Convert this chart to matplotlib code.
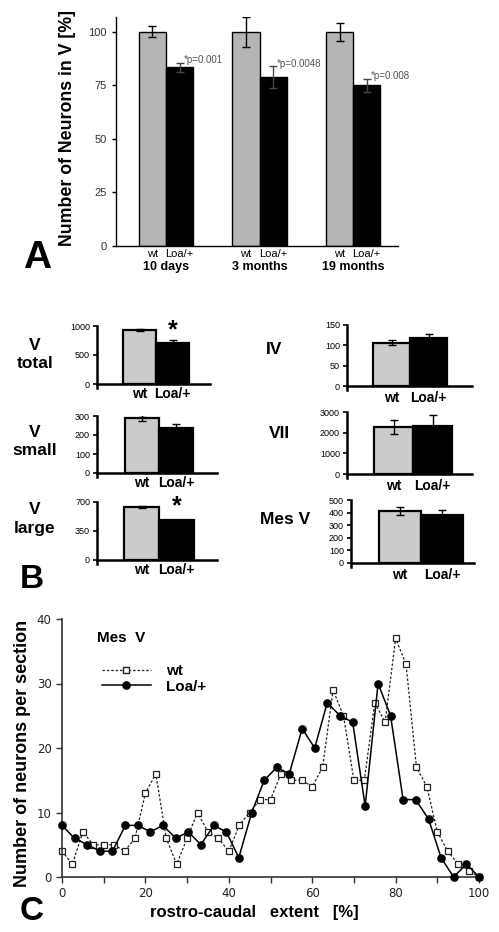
import numpy as np
import matplotlib
matplotlib.use("Agg")
import matplotlib.pyplot as plt
import matplotlib.transforms as mtransforms
from matplotlib.ticker import MultipleLocator
from matplotlib.lines import Line2D

plt.rcParams['font.family'] = ['Liberation Sans', 'DejaVu Sans']

# ---- Panel A: % neurons in V by age ----
edades = ['10 days', '3 months', '19 months']
wt_pct = [100, 100, 100]
wt_pct_err = [2.7, 7.0, 4.2]
loa_pct = [83.3, 78.8, 75.0]
loa_pct_err = [2.2, 5.0, 3.0]
p_textos = ['*p=0.001', '*p=0.0048', '*p=0.008']

# ---- Panel B: absolute counts ----
b_nombres = ['V\ntotal', 'V\nsmall', 'V\nlarge', 'IV', 'VII', 'Mes V']
b_wt = [930, 290, 636, 106, 2270, 415]
b_wt_err = [10, 15, 12, 6, 320, 32]
b_loa = [713, 236, 479, 119, 2340, 378]
b_loa_err = [45, 21, 5, 8, 520, 42]
b_yticks = [[0, 500, 1000], [0, 100, 200, 300], [0, 350, 700],
            [0, 50, 100, 150], [0, 1000, 2000, 3000], [0, 100, 200, 300, 400, 500]]
b_signif = [True, False, True, False, False, False]
b_xlabels = ['wt', 'Loa/+']

# ---- Panel C: rostro-caudal distribution of Mes V ----
wt_x = [0, 2.5, 5, 7.5, 10, 12.5, 15, 17.5, 20, 22.5, 25, 27.5, 30, 32.5, 35, 37.5,
        40, 42.5, 45, 47.5, 50, 52.5, 55, 57.5, 60, 62.5, 65, 67.5, 70, 72.5, 75,
        77.5, 80, 82.5, 85, 87.5, 90, 92.5, 95, 97.5, 100]
wt_y = [4, 2, 7, 5, 5, 5, 4, 6, 13, 16, 6, 2, 6, 10, 7, 6, 4, 8, 10, 12, 12, 16, 15,
        15, 14, 17, 29, 25, 15, 15, 27, 24, 37, 33, 17, 14, 7, 4, 2, 1, 0]
loa_x = [0, 3.0, 6.1, 9.1, 12.1, 15.2, 18.2, 21.2, 24.2, 27.3, 30.3, 33.3, 36.4,
         39.4, 42.4, 45.5, 48.5, 51.5, 54.5, 57.6, 60.6, 63.6, 66.7, 69.7, 72.7,
         75.8, 78.8, 81.8, 84.8, 87.9, 90.9, 93.9, 97.0, 100]
loa_y = [8, 6, 5, 4, 4, 8, 8, 7, 8, 6, 7, 5, 8, 7, 3, 10, 15, 17, 16, 23, 20, 27, 25,
         24, 11, 30, 25, 12, 12, 9, 3, 0, 2, 0]

W, H = 499, 932
fig = plt.figure(figsize=(W / 100, H / 100), dpi=100)


def caja(l, t, r, b):
    # pixel box -> figure fraction
    return [l / W, 1 - b / H, (r - l) / W, (b - t) / H]


# ================= A =================
axA = fig.add_axes(caja(116, 16.5, 398, 246))
g = np.arange(len(edades))
bw = 0.29
axA.bar(g - bw / 2, wt_pct, bw, color='#b5b5b5', edgecolor='black', lw=1)
axA.bar(g + bw / 2, loa_pct, bw, color='black', edgecolor='black', lw=1)
axA.errorbar(g - bw / 2, wt_pct, yerr=wt_pct_err, fmt='none', ecolor='black',
             elinewidth=1, capsize=3, capthick=1)
axA.errorbar(g + bw / 2, loa_pct, yerr=loa_pct_err, fmt='none', ecolor='#444444',
             elinewidth=1, capsize=3, capthick=1)
axA.set_xlim(-0.535, 2.48)
axA.set_ylim(0, 107)
axA.set_yticks([0, 25, 50, 75, 100])
for s in ['top', 'right']:
    axA.spines[s].set_visible(False)
for s in ['left', 'bottom']:
    axA.spines[s].set_linewidth(1)
axA.tick_params(axis='y', labelsize=8, length=3, width=1, labelcolor='#333333')
xt = np.concatenate([g - bw / 2, g + bw / 2])
axA.set_xticks(xt)
axA.set_xticklabels(['wt'] * 3 + ['Loa/+'] * 3)
axA.tick_params(axis='x', length=0, labelsize=8, pad=2)
trA = mtransforms.blended_transform_factory(axA.transData, axA.transAxes)
for i, e in enumerate(edades):
    axA.text(g[i], -0.092, e, transform=trA, ha='center', va='center',
             fontsize=9, fontweight='bold')
for i, p in enumerate(p_textos):
    axA.text(g[i] + bw / 2 + 0.04, loa_pct[i] + loa_pct_err[i] + 1.2, p,
             fontsize=7, color='#555555', ha='left', va='center')
fig.text(68 / W, 1 - 128 / H, 'Number of Neurons in V [%]', rotation=90,
         ha='center', va='center', fontsize=12.8, fontweight='bold')
fig.text(37 / W, 1 - 258 / H, 'A', ha='center', va='center', fontsize=28,
         fontweight='bold')

# ================= B =================
# (left, top-of-scale, right, zero-line, wt bar left px, bar width px)
cajas_b = [(97, 326, 210, 384, 123, 33),
           (97, 416, 217, 473, 125, 34),
           (97, 502, 217, 560, 124, 35),
           (347, 325, 472, 386, 373, 37),
           (347, 412, 472, 474, 374, 39),
           (351, 500, 474, 563, 379, 42)]
pos_etiq = [(35, 355), (35, 442), (35, 519), (274, 350), (279, 434), (285, 520)]

for k, (l, t, r, b, bx, bwp) in enumerate(cajas_b):
    top = b_yticks[k][-1]
    extra = 0.07
    bb = b + extra * (b - t)
    ax = fig.add_axes(caja(l, t, r, bb))
    ax.bar([0, 1], [b_wt[k], b_loa[k]], 1.0, color=['#cbcbcb', 'black'],
           edgecolor='black', lw=1.6, zorder=2)
    ax.errorbar([0, 1], [b_wt[k], b_loa[k]], yerr=[b_wt_err[k], b_loa_err[k]],
                fmt='none', ecolor='black', elinewidth=1, capsize=3, capthick=1,
                zorder=3)
    c0 = bx + bwp / 2
    ax.set_xlim((l - c0) / bwp, (r - c0) / bwp)
    ax.set_ylim(-extra * top, top)
    ax.spines['top'].set_visible(False)
    ax.spines['right'].set_visible(False)
    ax.spines['bottom'].set_position(('data', 0))
    ax.spines['left'].set_linewidth(1.8)
    ax.spines['bottom'].set_linewidth(1.8)
    ax.set_yticks(b_yticks[k])
    ax.tick_params(axis='y', labelsize=6.5, length=3, width=1.2, pad=2)
    ax.set_xticks([0, 1])
    ax.set_xticklabels(b_xlabels, fontsize=10, fontweight='bold')
    ax.tick_params(axis='x', length=0, pad=2 if k < 3 else 3.5)
    if b_signif[k]:
        ax.text(1, top * 0.92, '*', ha='center', va='center', fontsize=18,
                fontweight='bold', clip_on=False)
    px, py = pos_etiq[k]
    fig.text(px / W, 1 - py / H, b_nombres[k], ha='center', va='center',
             fontsize=12.5, fontweight='bold', linespacing=1.25,
             multialignment='center')
fig.text(32 / W, 1 - 580 / H, 'B', ha='center', va='center', fontsize=24,
         fontweight='bold')

# ================= C =================
axC = fig.add_axes(caja(62, 619, 479, 877))
axC.plot(wt_x, wt_y, ls=(0, (2, 1.5)), lw=0.9, color='#222222', marker='s',
         ms=5, mfc='white', mec='#222222', mew=0.9, clip_on=False, zorder=2)
axC.plot(loa_x, loa_y, ls='-', lw=1.1, color='black', marker='o', ms=5.2,
         mfc='black', mec='black', clip_on=False, zorder=3)
axC.set_xlim(0, 100)
axC.set_ylim(0, 40)
axC.spines['top'].set_visible(False)
axC.spines['right'].set_visible(False)
for s in ['left', 'bottom']:
    axC.spines[s].set_linewidth(1.2)
    axC.spines[s].set_color('#333333')
axC.xaxis.set_major_locator(MultipleLocator(20))
axC.xaxis.set_minor_locator(MultipleLocator(10))
axC.yaxis.set_major_locator(MultipleLocator(10))
axC.tick_params(which='both', length=4, width=1, color='#333333')
axC.tick_params(labelsize=8.5, labelcolor='#222222')
for lab in axC.get_xticklabels() + axC.get_yticklabels():
    lab.set_family('DejaVu Sans')
axC.text(0.084, 0.926, 'Mes  V', transform=axC.transAxes, ha='left',
         va='center', fontsize=11, fontweight='bold')
hdl = [Line2D([], [], ls=(0, (2, 1.5)), lw=0.9, color='#222222', marker='s',
              ms=5, mfc='white', mec='#222222'),
       Line2D([], [], ls='-', lw=1.1, color='black', marker='o', ms=5.2,
              mfc='black')]
leg = axC.legend(hdl, ['wt', 'Loa/+'], loc='upper left',
                 bbox_to_anchor=(0.096, 0.825), frameon=False, numpoints=1,
                 handlelength=3.2, handletextpad=1.0, borderpad=0,
                 borderaxespad=0, labelspacing=0.1,
                 prop={'weight': 'bold', 'size': 11})
fig.text(23 / W, 1 - 753 / H, 'Number of neurons per section', rotation=90,
         ha='center', va='center', fontsize=13, fontweight='bold')
fig.text(254 / W, 1 - 912 / H, 'rostro-caudal   extent   [%]', ha='center',
         va='center', fontsize=12, fontweight='bold')
fig.text(32 / W, 1 - 912 / H, 'C', ha='center', va='center', fontsize=24,
         fontweight='bold')

fig.savefig('out.png', dpi=100)
